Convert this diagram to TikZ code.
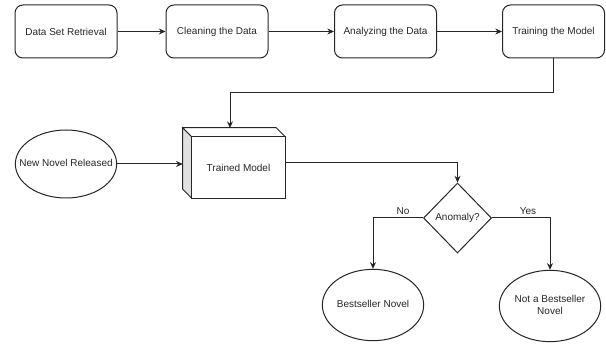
\documentclass[tikz,border=0pt]{standalone}
\usepackage{fontspec}
\setmainfont{Liberation Sans}
\usetikzlibrary{shapes.geometric,arrows.meta,calc}

% text that does not widen the shape around it
\newcommand{\slimtext}[1]{\makebox[0pt]{\begin{tabular}{@{}c@{}}#1\end{tabular}}}

\begin{document}
\begin{tikzpicture}[x=0.75pt,y=-0.75pt,
  every node/.style={font=\fontsize{7.5}{9}\selectfont, text=black!85},
  line/.style={draw=black!85, line width=0.75pt},
  arr/.style={line, -{Stealth[length=5pt,width=4.5pt]}},
  stepbox/.style={line, rectangle, rounded corners=6pt, minimum width=76.5pt,
    minimum height=39.75pt, inner sep=0pt},
  oval/.style={line, ellipse, minimum width=76pt, inner sep=0pt},
  decision/.style={line, diamond, minimum width=51pt, minimum height=52.5pt, inner sep=0pt},
  lbl/.style={font=\fontsize{7.5}{9}\selectfont, inner sep=2pt}
]
\useasboundingbox (0,0) rectangle (606,345);

% pipeline
\node[stepbox] (b1) at (66,31.5)    {Data Set Retrieval};
\node[stepbox] (b2) at (217,31.5)   {Cleaning the Data};
\node[stepbox] (b3) at (385.5,31.5) {Analyzing the Data};
\node[stepbox] (b4) at (553.5,31.5) {Training the Model};

% input novel
\node[oval, minimum height=51pt] (nn) at (66,164) {\slimtext{New Novel Released}};

% trained model drawn as a cube
\node[minimum width=76.5pt, minimum height=52.5pt, inner sep=0pt] (cube) at (234,163) {};
\coordinate (fnw) at ($(cube.north west)+(6.75pt,-6.75pt)$);
\coordinate (fsw) at (fnw |- cube.south);
\coordinate (fne) at (cube.east |- fnw);
\filldraw[line, fill=black!12] (cube.north west) -- (fnw) -- (fsw)
  -- ($(cube.south west)+(0pt,6.75pt)$) -- cycle;
\filldraw[line, fill=white] (cube.north west) -- ($(cube.north east)+(-6.75pt,0pt)$)
  -- (fne) -- (fnw) -- cycle;
\filldraw[line, fill=white] (fnw) rectangle (cube.south east);
\node (tm) at ($(fnw)!0.5!(cube.south east)$) {Trained Model};
\coordinate (cubein) at (230,128);
\coordinate (jog) at (0,93);

% decision and outcomes
\node[decision] (dia) at (457.5,218) {Anomaly?};
\node[oval, minimum height=53.5pt] (bs) at (373,305) {\slimtext{Bestseller Novel}};
\node[oval, minimum height=53.5pt] (nb) at (550,306) {\slimtext{Not a Bestseller\\Novel}};

% connectors
\draw[arr] (b1) -- (b2);
\draw[arr] (b2) -- (b3);
\draw[arr] (b3) -- (b4);
\draw[arr] (b4.south) -- (b4.south |- jog) -- (cubein |- jog) -- (cubein);
\draw[arr] (nn.east) -- (nn.east -| cube.west);
\draw[arr] (cube.east) -| (dia.north);
\draw[arr] (dia.west) -| node[lbl, pos=0.2, above] {No} (bs.north);
\draw[arr] (dia.east) -| node[lbl, pos=0.31, above] {Yes} (nb.north);
\end{tikzpicture}
\end{document}
